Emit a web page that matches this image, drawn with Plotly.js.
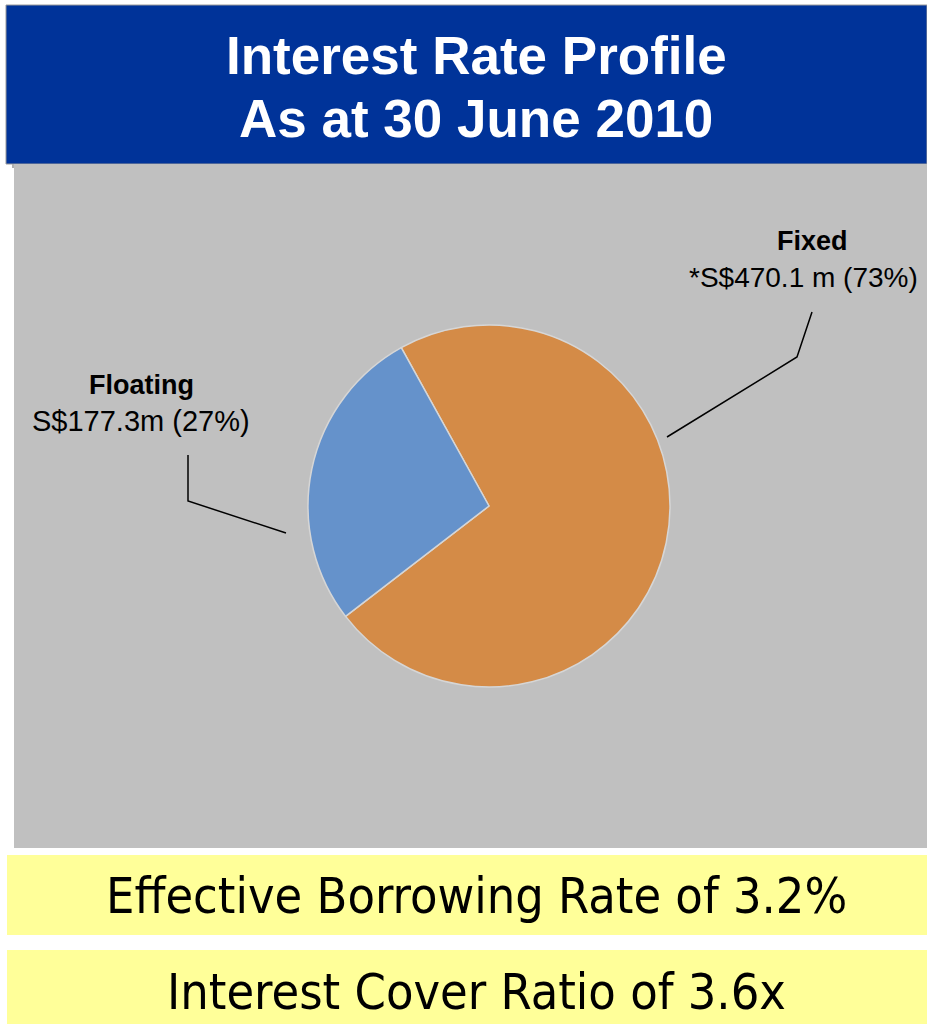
<!DOCTYPE html>
<html><head><meta charset="utf-8">
<script src="https://cdn.plot.ly/plotly-3.0.1.min.js"></script>
<style>html,body{margin:0;padding:0;background:#fff;}#chart{width:927px;height:1024px;}</style>
</head><body><div id="chart"></div>
<script>
const categories = ["Fixed", "Floating"];
const amounts = [470.1, 177.3];
const labelTitles = ["Fixed", "Floating"];
const labelValues = ["*S$470.1 m (73%)", "S$177.3m (27%)"];
const titleLines = ["Interest Rate Profile", "As at 30 June 2010"];
const footLines = ["Effective Borrowing Rate of 3.2%", "Interest Cover Ratio of 3.6x"];

const W = 927, H = 1024;
const px = x => x / W, py = y => 1 - y / H;

const trace = {
  type: 'pie', labels: categories, values: amounts, sort: false,
  direction: 'clockwise', rotation: -29,
  marker: {colors: ['#D48B47', '#6592CB'], line: {color: '#D6D6D6', width: 1.5}},
  textinfo: 'none', hoverinfo: 'label+value+percent', showlegend: false,
  domain: {x: [px(308), px(670)], y: [py(687), py(325)]}
};

function rect(x0, y0, x1, y1, fill, line) {
  return {type: 'rect', xref: 'paper', yref: 'paper', x0: px(x0), x1: px(x1), y0: py(y1), y1: py(y0),
    fillcolor: fill, line: line || {width: 0}, layer: 'below'};
}
function seg(pts) {
  let d = 'M' + pts.map(p => px(p[0]) + ',' + py(p[1])).join(' L');
  return {type: 'path', xref: 'paper', yref: 'paper', path: d, line: {color: '#000', width: 1.5}};
}
function txt(x, y, s, size, bold, color, family, anchor) {
  return {xref: 'paper', yref: 'paper', x: px(x), y: py(y), text: bold ? '<b>' + s + '</b>' : s,
    showarrow: false, xanchor: anchor || 'center', yanchor: 'middle',
    font: {size: size, color: color || '#000', family: family || 'Liberation Sans, Arial, sans-serif'}};
}

const shapes = [
  rect(6, 5, 927, 164, '#003399', {color: '#9a9a9a', width: 1}),
  rect(12, 164, 927, 168, '#b0b0b0'),
  rect(14, 164, 927, 848, '#C0C0C0'),
  rect(7, 855, 927, 935, '#FFFF99'),
  rect(7, 950, 927, 1024, '#FFFF99'),
  seg([[188, 455], [188, 501], [286, 533]]),
  seg([[812, 312], [797, 357], [667, 437]])
];

const foot = 'DejaVu Sans Condensed, DejaVu Sans, sans-serif';
const annotations = [
  txt(476, 55, titleLines[0], 53, true, '#fff'),
  txt(476, 118, titleLines[1], 53, true, '#fff'),
  txt(141, 385, labelTitles[1], 27, true),
  txt(141, 421, labelValues[1], 29, false),
  txt(812, 241, labelTitles[0], 27, true),
  txt(920, 277, labelValues[0], 28, false, '#000', null, 'right'),
  txt(476, 896, footLines[0], 50, false, '#000', foot),
  txt(476, 992, footLines[1], 50, false, '#000', foot)
];

Plotly.newPlot('chart', [trace], {
  width: W, height: H, margin: {l: 0, r: 0, t: 0, b: 0},
  paper_bgcolor: '#ffffff', shapes: shapes, annotations: annotations
}, {displayModeBar: false, staticPlot: true});
</script></body></html>
